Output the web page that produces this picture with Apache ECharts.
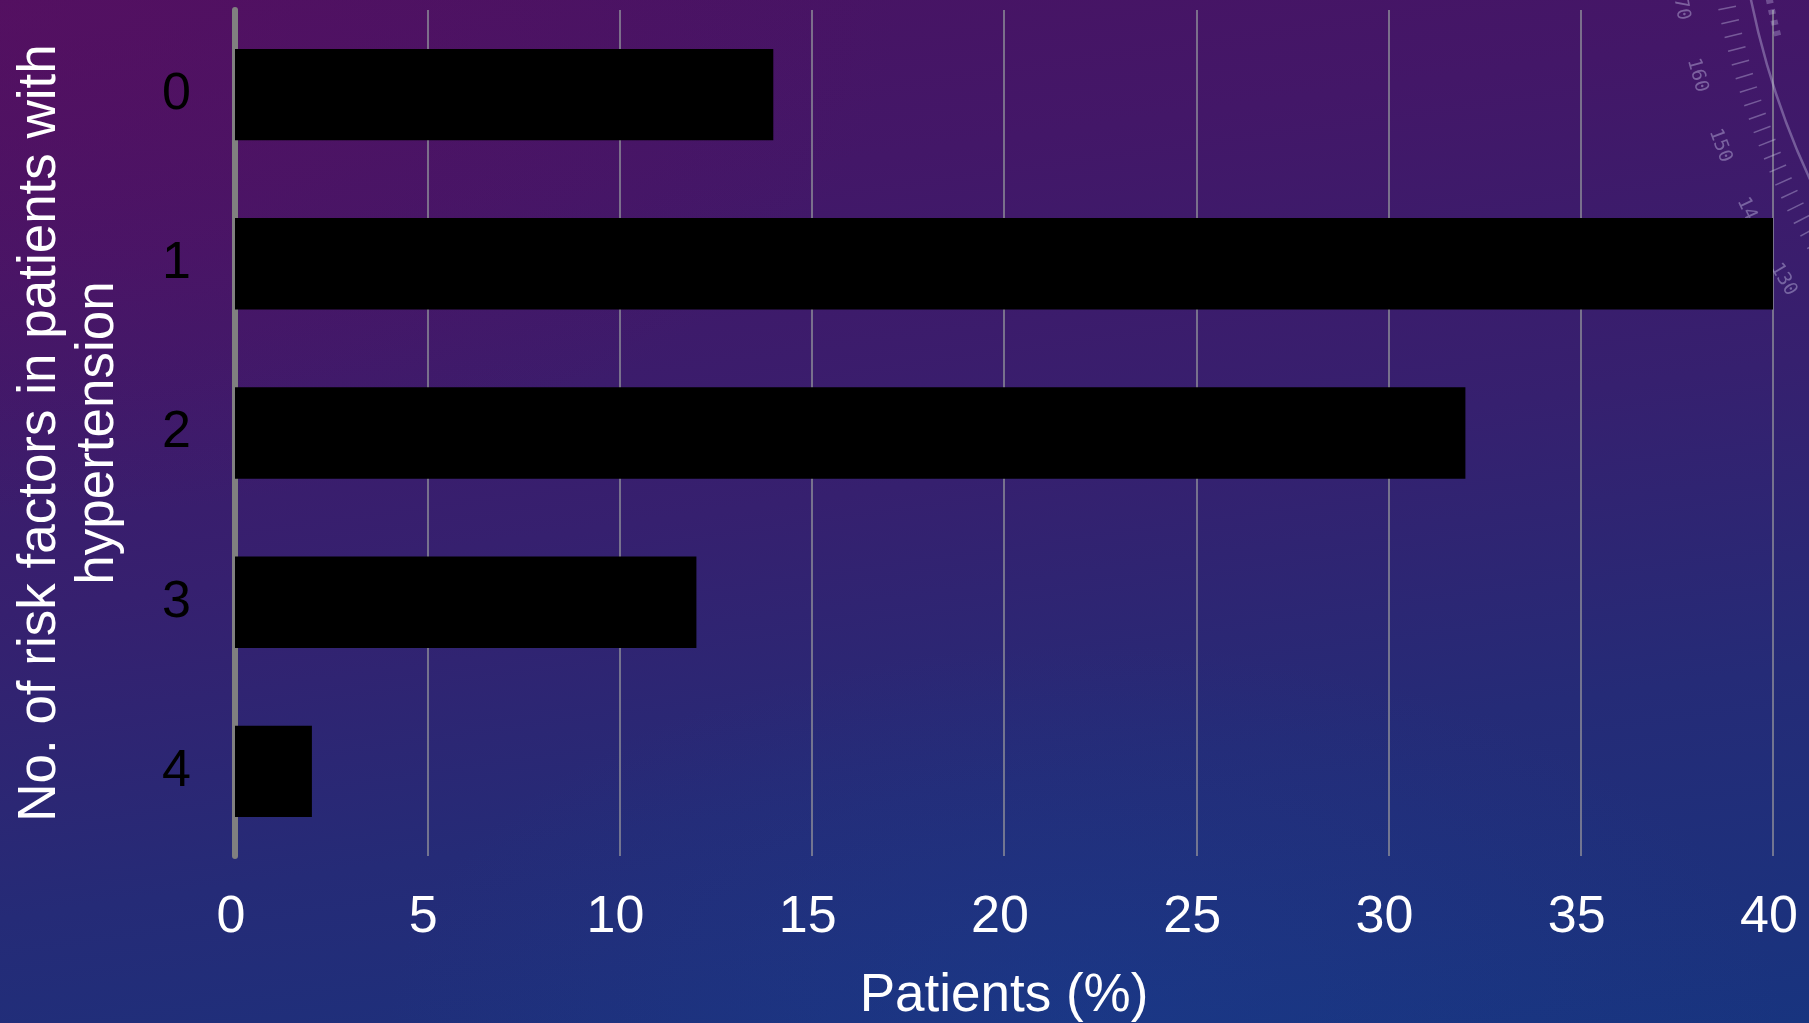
<!DOCTYPE html>
<html>
<head>
<meta charset="utf-8">
<title>Risk factors in patients with hypertension</title>
<script src="https://cdn.jsdelivr.net/npm/echarts@6/dist/echarts.min.js"></script>
<style>
  html, body { margin: 0; padding: 0; width: 1809px; height: 1023px; overflow: hidden; }
  body {
    background:
      radial-gradient(ellipse 900px 520px at 0% 0%, rgba(92, 14, 96, 0.55), rgba(92, 14, 96, 0) 100%),
      radial-gradient(ellipse 700px 380px at 60% 100%, rgba(24, 66, 150, 0.35), rgba(24, 66, 150, 0) 100%),
      linear-gradient(172deg, #4a1262 0%, #431768 22%, #36206f 48%, #252b77 72%, #18347f 100%);
  }
  #chart { width: 1809px; height: 1023px; }
</style>
</head>
<body>
<div id="chart"></div>
<script>
// Number of risk factors (category axis, top to bottom)
const categories = ['0', '1', '2', '3', '4'];
// Share of patients with hypertension in each group, %
const patientPct = [14, 40, 32, 12, 2];
// Value axis range and step
const xMin = 0;
const xMax = 40;
const xStep = 5;

const yTitle = 'No. of risk factors in patients with\nhypertension';
const xTitle = 'Patients (%)';

const FONT = "'Liberation Sans', Arial, Helvetica, sans-serif";

// Faint protractor ornament in the upper-right corner of the slide
function protractor() {
  const cx = 2540, cy = -160, r = 805;
  const stroke = 'rgba(205, 200, 235, 0.38)';
  const els = [];
  els.push({
    type: 'arc', silent: true, z: 1,
    shape: { cx, cy, r, startAngle: Math.PI * 0.80, endAngle: Math.PI * 1.02 },
    style: { stroke, fill: null, lineWidth: 2.5 }
  });
  els.push({
    type: 'arc', silent: true, z: 1,
    shape: { cx, cy, r: r - 18, startAngle: Math.PI * 0.92, endAngle: Math.PI * 1.02 },
    style: { stroke: 'rgba(205, 200, 235, 0.32)', fill: null, lineWidth: 7, lineDash: [5, 6] }
  });
  const step = 0.97;
  for (let i = 0; i < 40; i++) {
    const deg = 172.2 - i * step;
    const a = deg * Math.PI / 180;
    const c = Math.cos(a), s = Math.sin(a);
    els.push({
      type: 'line', silent: true, z: 1,
      shape: { x1: cx + (r + 16) * c, y1: cy + (r + 16) * s, x2: cx + (r + 34) * c, y2: cy + (r + 34) * s },
      style: { stroke, lineWidth: 1.5 }
    });
  }
  const marks = ['170', '160', '150', '140', '130'];
  marks.forEach((m, k) => {
    const deg = 169.25 - k * 4.85;
    const a = deg * Math.PI / 180;
    els.push({
      type: 'text', silent: true, z: 1,
      x: cx + (r + 70) * Math.cos(a), y: cy + (r + 70) * Math.sin(a),
      rotation: -(a - Math.PI / 2),
      style: {
        text: m, fill: 'rgba(205, 200, 235, 0.42)', font: "19px 'DejaVu Sans Mono', monospace",
        align: 'center', verticalAlign: 'middle'
      }
    });
  });
  return els;
}

const chart = echarts.init(document.getElementById('chart'), null, { renderer: 'canvas' });

chart.setOption({
  backgroundColor: 'transparent',
  animation: false,
  textStyle: { fontFamily: FONT },
  graphic: { elements: protractor() },
  grid: { left: 235, right: 36, top: 10, bottom: 167, containLabel: false, outerBoundsMode: 'none' },
  xAxis: {
    type: 'value',
    min: xMin,
    max: xMax,
    interval: xStep,
    axisLine: { show: false },
    axisTick: { show: false },
    splitLine: { show: true, lineStyle: { color: '#8e8e99', width: 1.5 } },
    axisLabel: { color: '#ffffff', fontSize: 52, fontFamily: FONT, margin: 36, padding: [0, 8, 0, 0] },
    name: xTitle,
    nameLocation: 'middle',
    nameGap: 114,
    nameTextStyle: { color: '#ffffff', fontSize: 53, fontFamily: FONT }
  },
  yAxis: {
    type: 'category',
    data: categories,
    inverse: true,
    axisLine: { show: true, lineStyle: { color: '#808080', width: 6 } },
    axisTick: { show: false },
    splitLine: { show: false },
    axisLabel: { color: '#000000', fontSize: 52, fontFamily: FONT, margin: 44 },
    name: yTitle,
    nameLocation: 'middle',
    nameRotate: 90,
    nameGap: 108,
    nameTextStyle: { color: '#ffffff', fontSize: 53, lineHeight: 58, fontFamily: FONT, align: 'center' }
  },
  series: [{
    type: 'bar',
    data: patientPct,
    barWidth: '54%',
    itemStyle: { color: '#000000' },
    z: 3
  }]
});
</script>
</body>
</html>
